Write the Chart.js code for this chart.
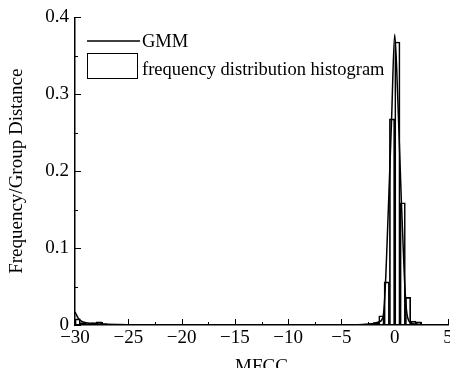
<!DOCTYPE html>
<html>
<head>
<meta charset="utf-8">
<script src="https://cdn.jsdelivr.net/npm/chart.js@4"></script>
<style>
  html, body { margin: 0; padding: 0; background: #fff; }
  #wrap { width: 450px; height: 368px; }
</style>
</head>
<body>
<div id="wrap"><canvas id="grafico"></canvas></div>
<script>
// histograma: centros de clase (ancho 0.5) y frecuencia/ancho
const binCenters = [-29.75, -29.25, -28.75, -28.25, -27.75, -27.25, -2.25, -1.75, -1.25, -0.75, -0.25, 0.25, 0.75, 1.25, 1.75, 2.25];
const binValues  = [0.008, 0.003, 0.002, 0.003, 0.004, 0.002, 0.002, 0.003, 0.012, 0.056, 0.268, 0.368, 0.159, 0.036, 0.005, 0.004];

// curva GMM
const gmmX = [-30, -29.7, -29.4, -29, -28.5, -28, -27, -26, -25, -20, -10, -5, -3, -2, -1.5, -1.1, -0.9, -0.6, -0.3, 0, 0.3, 0.6, 0.9, 1.1, 1.4, 2, 3, 5];
const gmmY = [0.017, 0.009, 0.005, 0.003, 0.002, 0.0015, 0.001, 0.0006, 0.0003, 0, 0, 0, 0.0008, 0.002, 0.004, 0.01, 0.045, 0.15, 0.265, 0.378, 0.29, 0.17, 0.065, 0.02, 0.004, 0.001, 0, 0];

const xTicks = [-30, -25, -20, -15, -10, -5, 0, 5];
const yTicks = [0, 0.1, 0.2, 0.3, 0.4];

const fuente = 'Liberation Serif';

const puntosGmm = gmmX.map((x, i) => ({ x: x, y: gmmY[i] }));
const barras = binCenters.map((x, i) => ({ x: x, y: binValues[i] }));

// ticks hacia adentro, con ticks menores, y la leyenda
const ticksAdentro = {
  id: 'ticksAdentro',
  afterDraw(chart) {
    const ctx = chart.ctx;
    const xs = chart.scales.x;
    const ys = chart.scales.y;
    const area = chart.chartArea;
    ctx.save();
    ctx.strokeStyle = '#000';
    ctx.lineWidth = 1;
    ctx.beginPath();
    xTicks.forEach(v => {
      const px = Math.round(xs.getPixelForValue(v)) + 0.5;
      ctx.moveTo(px, area.bottom);
      ctx.lineTo(px, area.bottom - 6);
      if (v < 5) {
        const pm = Math.round(xs.getPixelForValue(v + 2.5)) + 0.5;
        ctx.moveTo(pm, area.bottom);
        ctx.lineTo(pm, area.bottom - 3);
      }
    });
    yTicks.forEach(v => {
      const py = Math.round(ys.getPixelForValue(v)) + 0.5;
      ctx.moveTo(area.left, py);
      ctx.lineTo(area.left + 6, py);
      if (v < 0.4) {
        const pm = Math.round(ys.getPixelForValue(v + 0.05)) + 0.5;
        ctx.moveTo(area.left, pm);
        ctx.lineTo(area.left + 3, pm);
      }
    });
    ctx.stroke();

    // leyenda
    const ds = chart.data.datasets;
    const lx = area.left + 12;
    ctx.font = '18.5px "' + fuente + '"';
    ctx.fillStyle = '#000';
    ctx.textBaseline = 'alphabetic';
    ctx.lineWidth = 1.5;
    ctx.beginPath();
    ctx.moveTo(lx, 41);
    ctx.lineTo(lx + 53, 41);
    ctx.stroke();
    ctx.fillText(ds[0].label, lx + 55, 47);
    ctx.lineWidth = 1;
    ctx.strokeRect(lx + 0.5, 53.5, 50, 25);
    ctx.fillText(ds[1].label, lx + 55, 75);
    ctx.restore();
  }
};

new Chart(document.getElementById('grafico'), {
  type: 'bar',
  data: {
    datasets: [
      {
        type: 'line',
        label: 'GMM',
        data: puntosGmm,
        borderColor: '#000',
        borderWidth: 1.5,
        pointRadius: 0,
        cubicInterpolationMode: 'monotone',
        fill: false,
        order: 0
      },
      {
        type: 'bar',
        label: 'frequency distribution histogram',
        data: barras,
        backgroundColor: 'rgba(255,255,255,0)',
        borderColor: '#000',
        borderWidth: 1,
        barPercentage: 1,
        categoryPercentage: 1,
        order: 1
      }
    ]
  },
  options: {
    responsive: true,
    maintainAspectRatio: false,
    animation: false,
    layout: { padding: { top: 16, right: 2, left: 0, bottom: 0 } },
    plugins: {
      legend: { display: false },
      tooltip: { enabled: false }
    },
    scales: {
      x: {
        type: 'linear',
        min: -30,
        max: 5,
        offset: false,
        afterBuildTicks: (s) => { s.ticks = xTicks.map(v => ({ value: v })); },
        afterFit: (s) => { s.paddingLeft = 0; s.paddingRight = 0; s.height = 43; },
        grid: { display: false, drawTicks: false },
        border: { display: true, color: '#000', width: 1.5 },
        ticks: {
          color: '#000',
          padding: 2,
          maxRotation: 0,
          font: { family: fuente, size: 19 },
          callback: (v) => String(v).replace('-', '\u2212')
        },
        title: {
          display: true,
          text: 'MFCC',
          color: '#000',
          padding: { top: 0, bottom: -10 },
          font: { family: fuente, size: 19 }
        }
      },
      y: {
        min: 0,
        max: 0.4,
        afterBuildTicks: (s) => { s.ticks = yTicks.map(v => ({ value: v })); },
        afterFit: (s) => { s.width = 75; },
        grid: { display: false, drawTicks: false },
        border: { display: true, color: '#000', width: 1.5 },
        ticks: {
          color: '#000',
          padding: 6,
          font: { family: fuente, size: 19 },
          callback: (v) => String(Math.round(v * 10) / 10)
        },
        title: {
          display: true,
          text: 'Frequency/Group Distance',
          color: '#000',
          padding: { top: 6, bottom: 0 },
          font: { family: fuente, size: 19 }
        }
      }
    }
  },
  plugins: [ticksAdentro]
});
</script>
</body>
</html>
